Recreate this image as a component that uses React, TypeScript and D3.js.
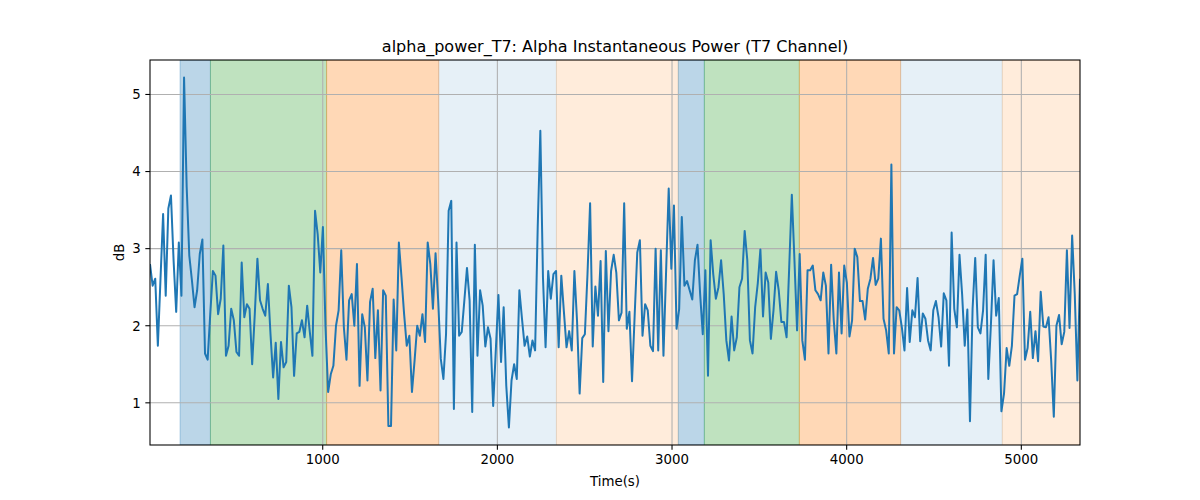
import React from "react";
import * as d3 from "d3";

// alpha power samples (dB), one every 15 s
const powerA = [2.8, 2.52, 2.61, 1.74, 2.6, 3.45, 2.39, 3.52, 3.69, 2.85, 2.18, 3.08, 2.39, 5.22, 3.8, 2.91, 2.59, 2.24, 2.46, 2.93, 3.12, 1.64, 1.56, 2.15, 2.71, 2.65, 2.15, 2.35, 3.04, 1.61, 1.74, 2.22, 2.07, 1.66, 1.61, 2.82, 2.11, 2.28, 2.22, 1.5, 2.15, 2.87, 2.33, 2.22, 2.13, 2.54, 1.89, 1.33, 1.78, 1.05, 1.79, 1.46];
const powerB = [1.53, 2.52, 2.24, 1.35, 1.9, 1.92, 2.07, 1.85, 2.26, 1.92, 1.61, 3.49, 3.19, 2.69, 3.28, 1.98, 1.14, 1.37, 1.48, 2.0, 2.2, 2.98, 1.98, 1.56, 2.33, 2.41, 2.0, 2.8, 1.22, 2.15, 1.98, 1.29, 2.31, 2.48, 1.58, 2.2, 1.16, 2.46, 2.39, 0.7, 0.7, 2.34, 1.68, 3.08, 2.63, 2.15, 1.74, 1.87, 1.14, 1.55, 2.0];
const powerC = [1.87, 2.15, 1.79, 3.08, 2.8, 2.22, 2.94, 2.33, 1.57, 1.31, 1.89, 3.49, 3.62, 0.92, 3.08, 1.87, 1.92, 2.33, 2.75, 2.33, 0.88, 3.05, 1.61, 2.46, 2.26, 1.73, 1.98, 1.83, 0.96, 1.68, 2.4, 1.53, 2.24, 1.22, 0.68, 1.29, 1.5, 1.31, 2.46, 2.09, 1.74, 1.86, 1.6, 1.81, 1.68, 3.28, 4.53, 2.63, 1.72, 2.71, 2.35];
const powerD = [2.67, 2.71, 1.72, 2.65, 2.18, 1.72, 1.93, 1.68, 2.71, 2.07, 1.12, 1.84, 1.89, 2.67, 3.59, 1.73, 2.51, 2.13, 2.84, 1.27, 2.97, 1.93, 2.71, 2.92, 2.69, 2.07, 2.17, 3.59, 1.96, 2.18, 1.28, 2.13, 2.95, 3.11, 1.87, 2.28, 2.2, 1.74, 1.67, 3.0, 1.68, 2.98, 1.61, 2.7, 3.78, 2.74, 3.56, 1.96, 2.22, 3.41, 2.52];
const powerE = [2.58, 2.46, 2.34, 2.85, 3.05, 2.41, 1.89, 2.72, 1.35, 3.11, 2.67, 2.35, 2.5, 2.85, 2.41, 1.81, 1.55, 2.12, 1.68, 1.85, 2.5, 2.61, 3.23, 2.85, 1.81, 1.64, 2.24, 2.55, 2.99, 2.12, 2.69, 2.56, 1.83, 2.2, 2.7, 2.46, 2.05, 2.05, 1.85, 2.76, 3.7, 2.85, 1.94, 2.93, 1.81, 1.56, 2.72, 2.72, 2.78, 2.46];
const powerF = [2.41, 2.33, 2.69, 2.52, 1.64, 2.79, 2.07, 1.64, 2.69, 1.9, 2.78, 2.56, 1.86, 2.07, 3.0, 2.89, 2.32, 2.32, 2.08, 2.48, 2.61, 2.88, 2.53, 2.61, 3.13, 2.09, 1.94, 1.64, 4.09, 1.64, 2.24, 2.2, 1.98, 1.68, 2.49, 1.79, 2.2, 2.11, 2.62, 1.8, 2.16, 2.09, 1.81, 1.68, 2.2, 2.32, 2.11, 1.73, 2.42, 2.33, 1.48];
const powerG = [3.21, 2.22, 1.98, 2.92, 2.41, 1.74, 2.21, 0.76, 2.22, 2.88, 1.98, 1.9, 2.2, 2.92, 1.31, 2.02, 2.85, 2.13, 2.36, 0.89, 1.12, 1.71, 1.48, 1.74, 2.39, 2.41, 2.65, 2.87, 1.56, 1.71, 2.18, 1.58, 1.93, 1.54, 2.44, 1.99, 1.98, 2.11, 1.55, 0.82, 2.0, 2.14, 1.76, 1.92, 2.98, 1.97, 3.17, 2.41, 1.29, 2.61];

const startTime = 11;
const sampleStep = 15;

// shaded phases: [start, end, colour, opacity]
const spanStarts = [183, 357, 1022, 1664, 2338, 3036, 3185, 3729, 4309, 4891];
const spanEnds = [357, 1022, 1664, 2338, 3036, 3185, 3729, 4309, 4891, 5336];
const spanColors = ["#1f77b4", "#2ca02c", "#ff7f0e", "#1f77b4", "#ff7f0e", "#1f77b4", "#2ca02c", "#ff7f0e", "#1f77b4", "#ff7f0e"];
const spanAlphas = [0.3, 0.3, 0.3, 0.11, 0.15, 0.3, 0.3, 0.3, 0.11, 0.15];

const xTicks = [1000, 2000, 3000, 4000, 5000];
const yTicks = [1, 2, 3, 4, 5];

const W = 1200;
const H = 500;
const margin = { top: 60, right: 120, bottom: 55, left: 150 };
const font = "'DejaVu Sans', sans-serif";

export default function App() {
  const values = [...powerA, ...powerB, ...powerC, ...powerD, ...powerE, ...powerF, ...powerG];
  const data = values.map((v, i) => ({ t: startTime + i * sampleStep, v }));

  const left = margin.left;
  const right = W - margin.right;
  const top = margin.top;
  const bottom = H - margin.bottom;

  const x = d3
    .scaleLinear()
    .domain(d3.extent(data, (d) => d.t) as [number, number])
    .range([left, right]);

  const [vmin, vmax] = d3.extent(values) as [number, number];
  const pad = (vmax - vmin) * 0.05;
  const y = d3.scaleLinear().domain([vmin - pad, vmax + pad]).range([bottom, top]);

  const line = d3
    .line<{ t: number; v: number }>()
    .x((d) => x(d.t))
    .y((d) => y(d.v));

  const gridColor = "#b0b0b0";
  const tickLen = 4.67;

  return (
    <svg width={W} height={H} style={{ position: "absolute", left: 0, top: 0, background: "#fff" }} fontFamily={font}>
      <defs>
        <clipPath id="plot">
          <rect x={left} y={top} width={right - left} height={bottom - top} />
        </clipPath>
      </defs>

      <g clipPath="url(#plot)">
        {spanStarts.map((s, i) => (
          <rect
            key={i}
            x={x(s)}
            y={top}
            width={x(spanEnds[i]) - x(s)}
            height={bottom - top}
            fill={spanColors[i]}
            fillOpacity={spanAlphas[i]}
            stroke={spanColors[i]}
            strokeOpacity={spanAlphas[i]}
            strokeWidth={1}
          />
        ))}
      </g>

      {/* grid */}
      {xTicks.map((t) => (
        <line key={"gx" + t} x1={x(t)} x2={x(t)} y1={top} y2={bottom} stroke={gridColor} strokeWidth={1.07} />
      ))}
      {yTicks.map((t) => (
        <line key={"gy" + t} x1={left} x2={right} y1={y(t)} y2={y(t)} stroke={gridColor} strokeWidth={1.07} />
      ))}

      <path d={line(data) || ""} fill="none" stroke="#1f77b4" strokeWidth={2} strokeLinejoin="round" clipPath="url(#plot)" />

      {/* spines */}
      <rect x={left} y={top} width={right - left} height={bottom - top} fill="none" stroke="#000" strokeWidth={1.07} />

      {/* x ticks */}
      {xTicks.map((t) => (
        <g key={"xt" + t}>
          <line x1={x(t)} x2={x(t)} y1={bottom} y2={bottom + tickLen} stroke="#000" strokeWidth={1.07} />
          <text x={x(t)} y={bottom + tickLen + 4.67} dy="0.76em" textAnchor="middle" fontSize={13.33}>
            {t}
          </text>
        </g>
      ))}

      {/* y ticks */}
      {yTicks.map((t) => (
        <g key={"yt" + t}>
          <line x1={left - tickLen} x2={left} y1={y(t)} y2={y(t)} stroke="#000" strokeWidth={1.07} />
          <text x={left - tickLen - 4.67} y={y(t)} dy="0.36em" textAnchor="end" fontSize={13.33}>
            {t}
          </text>
        </g>
      ))}

      <text x={(left + right) / 2} y={top - 8} textAnchor="middle" fontSize={16}>
        alpha_power_T7: Alpha Instantaneous Power (T7 Channel)
      </text>
      <text x={(left + right) / 2} y={486} textAnchor="middle" fontSize={13.33}>
        Time(s)
      </text>
      <text transform={`translate(124,${(top + bottom) / 2}) rotate(-90)`} textAnchor="middle" fontSize={13.33}>
        dB
      </text>
    </svg>
  );
}
